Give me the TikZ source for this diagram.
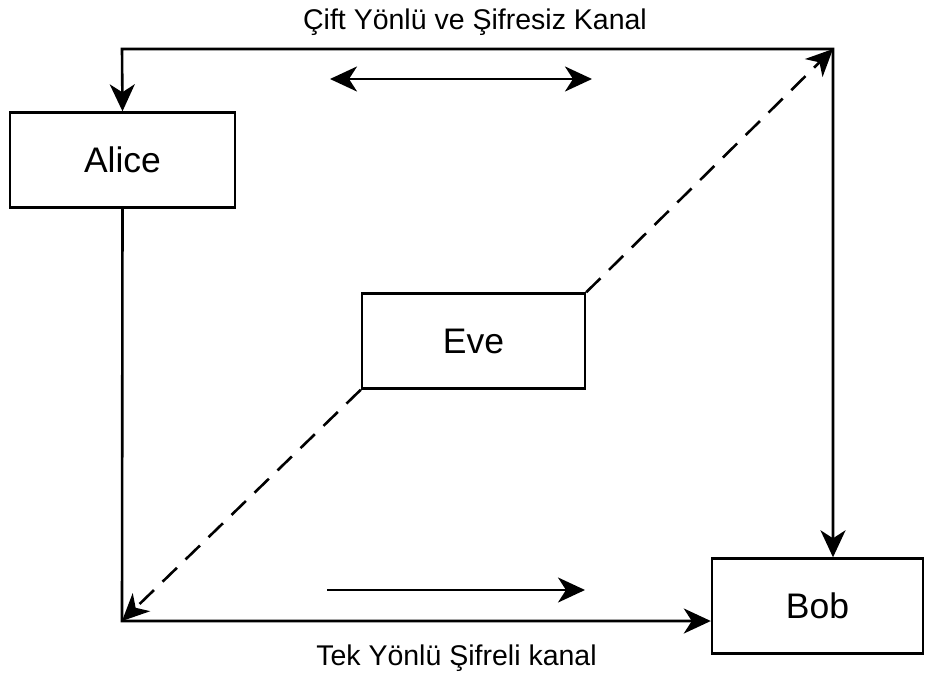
\documentclass[tikz,border=0pt]{standalone}
\usepackage{fontspec}
\setmainfont{Liberation Sans}
\usetikzlibrary{arrows.meta}
\begin{document}
\begin{tikzpicture}[x=1pt,y=-1pt,
  box/.style={draw,line width=2.4pt,minimum width=#1,minimum height=95pt,inner sep=0pt,font=\fontsize{35.5}{40}\selectfont},
  tip/.style={Stealth[length=27pt,width=25pt,inset=8pt]},
  conn/.style={line width=2.6pt,-{Stealth[length=27pt,width=25pt,inset=8pt]}},
  dconn/.style={conn,dash pattern=on 20pt off 12pt},
  lbl/.style={anchor=base,inner sep=0pt,font=\fontsize{28.5}{32}\selectfont}]
\useasboundingbox (0,0) rectangle (926,675);
\node[box=225pt] (alice) at (122.5,160) {Alice};
\node[box=223pt] (eve) at (473.5,341) {Eve};
\node[box=211pt] (bob) at (817.5,606) {Bob};
\coordinate (tl) at (122,49);
\coordinate (tr) at (833,49);
\coordinate (bl) at (122,621);
\coordinate (d1) at (330,79);
\coordinate (d2) at (592,79);
\coordinate (s1) at (327,590);
\coordinate (s2) at (585,590);
\draw[conn,{Stealth[length=27pt,width=25pt,inset=8pt]}-{Stealth[length=27pt,width=25pt,inset=8pt]}] (alice.north) -- (tl) -- (tr) -- (tr |- bob.north);
\draw[conn] (alice.south) -- (bl) -- (bob.west |- bl);
\draw[dconn] (eve.north east) -- (tr);
\draw[dconn] (eve.south west) -- (bl);
\draw[conn,{Stealth[length=27pt,width=25pt,inset=8pt]}-{Stealth[length=27pt,width=25pt,inset=8pt]}] (d1) -- (d2);
\draw[conn] (s1) -- (s2);
\node[lbl] (top) at (475,29) {Çift Yönlü ve Şifresiz Kanal};
\node[lbl] (bot) at (456.5,665) {Tek Yönlü Şifreli kanal};
\end{tikzpicture}
\end{document}
